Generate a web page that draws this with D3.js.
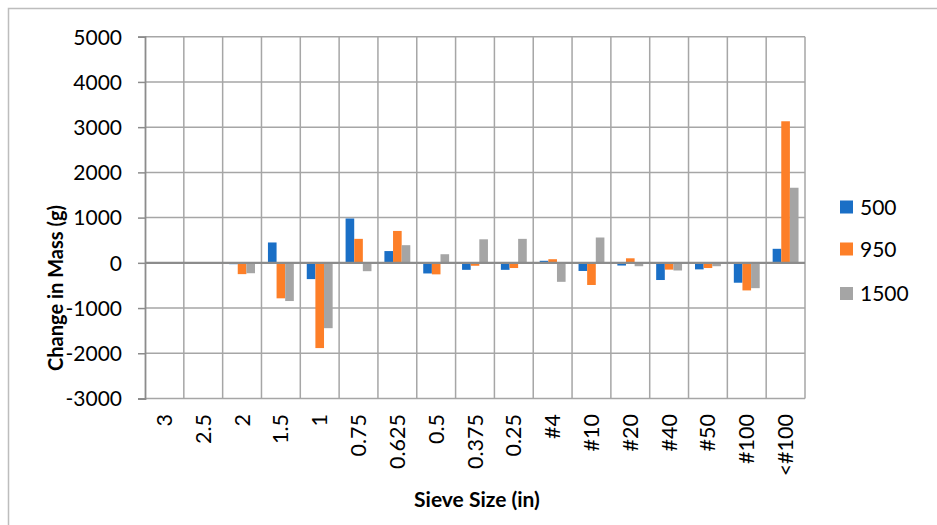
<!DOCTYPE html>
<html><head><meta charset="utf-8">
<script src="https://cdn.jsdelivr.net/npm/d3@7/dist/d3.min.js"></script>
<style>body{margin:0;background:#fff}svg{display:block}text{font-family:Lato,"Open Sans",sans-serif;fill:#000}</style>
</head><body>
<script>
const categories = ["3","2.5","2","1.5","1","0.75","0.625","0.5","0.375","0.25","#4","#10","#20","#40","#50","#100","<#100"];
const seriesNames = ["500","950","1500"];
const s500  = [0, 0, -30, 450, -360, 980, 260, -235, -155, -155, 45, -180, -60, -380, -145, -440, 310];
const s950  = [0, 0, -250, -785, -1885, 530, 705, -255, -65, -115, 80, -490, 100, -150, -115, -610, 3130];
const s1500 = [0, 0, -230, -845, -1445, -185, 390, 190, 520, 530, -420, 560, -75, -170, -75, -560, 1660];
const yTicks = [5000,4000,3000,2000,1000,0,-1000,-2000,-3000];
const colors = ["#1a6fc6","#fd7f28","#a5a5a5"];
const series = [s500, s950, s1500];

const W = 937, H = 525;
const m = {left:145, right:W-805, top:36.7, bottom:H-398.5};
const svg = d3.select("body").append("svg").attr("width",W).attr("height",H);

svg.append("path").attr("d",`M8.5,${H+5}V8.5H${W+5}`).attr("fill","none").attr("stroke","#bdbdbd").attr("stroke-width",1.5);

const x = d3.scaleBand().domain(categories).range([m.left, W-m.right]);
const y = d3.scaleLinear().domain([-3000,5000]).range([H-m.bottom, m.top]);

// horizontal gridlines
svg.append("g").selectAll("line").data(yTicks).join("line")
  .attr("x1",m.left).attr("x2",W-m.right).attr("y1",d=>y(d)).attr("y2",d=>y(d))
  .attr("stroke","#a6a6a6").attr("stroke-width",1.5);
// vertical gridlines
const vb = categories.map(c=>x(c)).concat([W-m.right]);
svg.append("g").selectAll("line").data(vb.slice(1)).join("line")
  .attr("x1",d=>d).attr("x2",d=>d).attr("y1",m.top).attr("y2",H-m.bottom)
  .attr("stroke","#a6a6a6").attr("stroke-width",1.5);

// bars
const bw = x.bandwidth()/4.5;
series.forEach((s,i)=>{
  svg.append("g").selectAll("rect").data(s).join("rect")
    .attr("x",(d,j)=>x(categories[j]) + 0.75*bw + i*bw)
    .attr("width",bw)
    .attr("y",d=>Math.min(y(d),y(0)))
    .attr("height",d=>Math.abs(y(d)-y(0)))
    .attr("fill",colors[i]);
});

// zero axis line
svg.append("line").attr("x1",m.left).attr("x2",W-m.right).attr("y1",y(0)).attr("y2",y(0))
  .attr("stroke","#8c8c8c").attr("stroke-width",2.2);

// left axis
const ya = d3.axisLeft(y).tickValues(yTicks).tickSize(7).tickPadding(16).tickFormat(d3.format("d"));
const gy = svg.append("g").attr("transform",`translate(${m.left},0)`).call(ya);
gy.select(".domain").attr("stroke","#8c8c8c").attr("stroke-width",1.8);
gy.selectAll(".tick line").attr("stroke","#8c8c8c").attr("stroke-width",1.5);
gy.selectAll(".tick text").style("font-size","21px").attr("dy","0.35em");
gy.selectAll(".tick text").text(d=>d<0?"-"+Math.abs(d):d);

// category labels
svg.append("g").selectAll("text").data(categories).join("text")
  .attr("transform",d=>`translate(${x(d)+x.bandwidth()/2+7.5},414) rotate(-90)`)
  .attr("text-anchor","end").style("font-size","21.5px").text(d=>d);

// axis titles
svg.append("text").attr("transform","translate(63,288) rotate(-90)").attr("text-anchor","middle")
  .style("font-size","20px").style("font-weight","bold").text("Change in Mass (g)");
svg.append("text").attr("x",477).attr("y",507).attr("text-anchor","middle")
  .style("font-size","21px").style("font-weight","bold").text("Sieve Size (in)");

// legend
const ly = [207, 249, 293.5];
const lg = svg.append("g").selectAll("g").data(seriesNames).join("g")
  .attr("transform",(d,i)=>`translate(840,${ly[i]})`);
lg.append("rect").attr("x",0).attr("y",-6.5).attr("width",13).attr("height",13).attr("fill",(d,i)=>colors[i]);
lg.append("text").attr("x",20).attr("dy","0.36em").style("font-size","21px").text(d=>d);
</script>
</body></html>
